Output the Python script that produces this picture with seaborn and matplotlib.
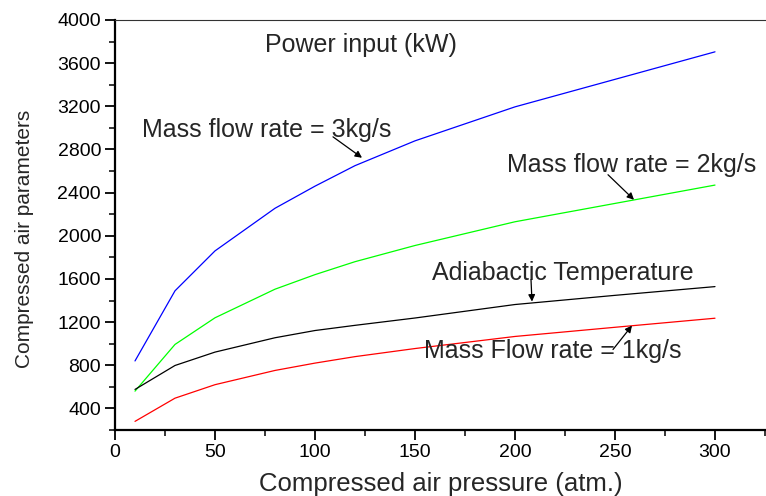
import matplotlib
matplotlib.use("Agg")
import matplotlib.pyplot as plt
import seaborn as sns
import pandas as pd
from matplotlib.ticker import MultipleLocator

# ---- data ----
pressure = [10, 30, 50, 80, 100, 120, 150, 200, 250, 300]
power_3kg = [840, 1490, 1860, 2255, 2460, 2650, 2880, 3195, 3450, 3705]
power_2kg = [560, 993, 1240, 1505, 1640, 1760, 1910, 2130, 2300, 2470]
adiabatic_temp = [576, 798, 922, 1055, 1122, 1170, 1238, 1363, 1448, 1529]
power_1kg = [280, 495, 620, 752, 820, 880, 955, 1067, 1152, 1236]

series_names = ["3kg/s", "2kg/s", "Adiabatic", "1kg/s"]
series_colors = ["#0000FF", "#00FF00", "#000000", "#FF0000"]

x_label = "Compressed air pressure (atm.)"
y_label = "Compressed air parameters"

df = pd.DataFrame({
    "pressure": pressure * 4,
    "value": power_3kg + power_2kg + adiabatic_temp + power_1kg,
    "series": sum([[n] * len(pressure) for n in series_names], []),
})

sns.set_style("ticks")
plt.rcParams["font.family"] = ["Liberation Sans", "DejaVu Sans"]

fig = plt.figure(figsize=(7.66, 4.96), dpi=100)
ax = fig.add_axes([115 / 766, 1 - 430 / 496, 1 - 115 / 766, (430 - 20) / 496])

sns.lineplot(data=df, x="pressure", y="value", hue="series",
             palette=dict(zip(series_names, series_colors)),
             hue_order=series_names, linewidth=0.9, legend=False, ax=ax,
             estimator=None, sort=False)

ax.set_xlim(0, 325.5)
ax.set_ylim(200, 4000)
ax.xaxis.set_major_locator(MultipleLocator(50))
ax.xaxis.set_minor_locator(MultipleLocator(25))
ax.yaxis.set_minor_locator(MultipleLocator(200))
ax.set_yticks([400, 800, 1200, 1600, 2000, 2400, 2800, 3200, 3600, 4000])

ax.tick_params(which="major", direction="out", length=7, width=1.3,
               labelsize=14, pad=3, colors="black")
ax.tick_params(which="minor", direction="out", length=4.5, width=1.3)
ax.tick_params(top=False, right=False)

for s in ["left", "bottom"]:
    ax.spines[s].set_linewidth(1.6)
    ax.spines[s].set_color("black")
ax.spines["top"].set_linewidth(0.8)
ax.spines["top"].set_color("#333333")
ax.spines["right"].set_visible(False)

ax.set_xlabel(x_label, fontsize=18.5, labelpad=8)
ax.set_ylabel(y_label, fontsize=15)
ax.yaxis.set_label_coords(-0.124, 0.466)

ann_size = 18
ax.text(75, 3769, "Power input (kW)", fontsize=ann_size, ha="left", va="center")
ax.text(13.5, 2982, "Mass flow rate = 3kg/s", fontsize=ann_size, ha="left", va="center")
ax.text(196, 2658, "Mass flow rate = 2kg/s", fontsize=ann_size, ha="left", va="center")
ax.text(158.5, 1659, "Adiabactic Temperature", fontsize=ann_size, ha="left", va="center")
ax.text(154.5, 928, "Mass Flow rate = 1kg/s", fontsize=ann_size, ha="left", va="center")

arrows = [((109, 2917), (123.5, 2723)),
          ((246.5, 2566), (259.5, 2334)),
          ((208, 1594), (208.5, 1390)),
          ((249, 946), (258.5, 1168))]
for tail, head in arrows:
    ax.annotate("", xy=head, xytext=tail,
                arrowprops=dict(arrowstyle="-|>", color="black", lw=0.9,
                                mutation_scale=10, shrinkA=0, shrinkB=0))

fig.savefig("out.png", dpi=100)
